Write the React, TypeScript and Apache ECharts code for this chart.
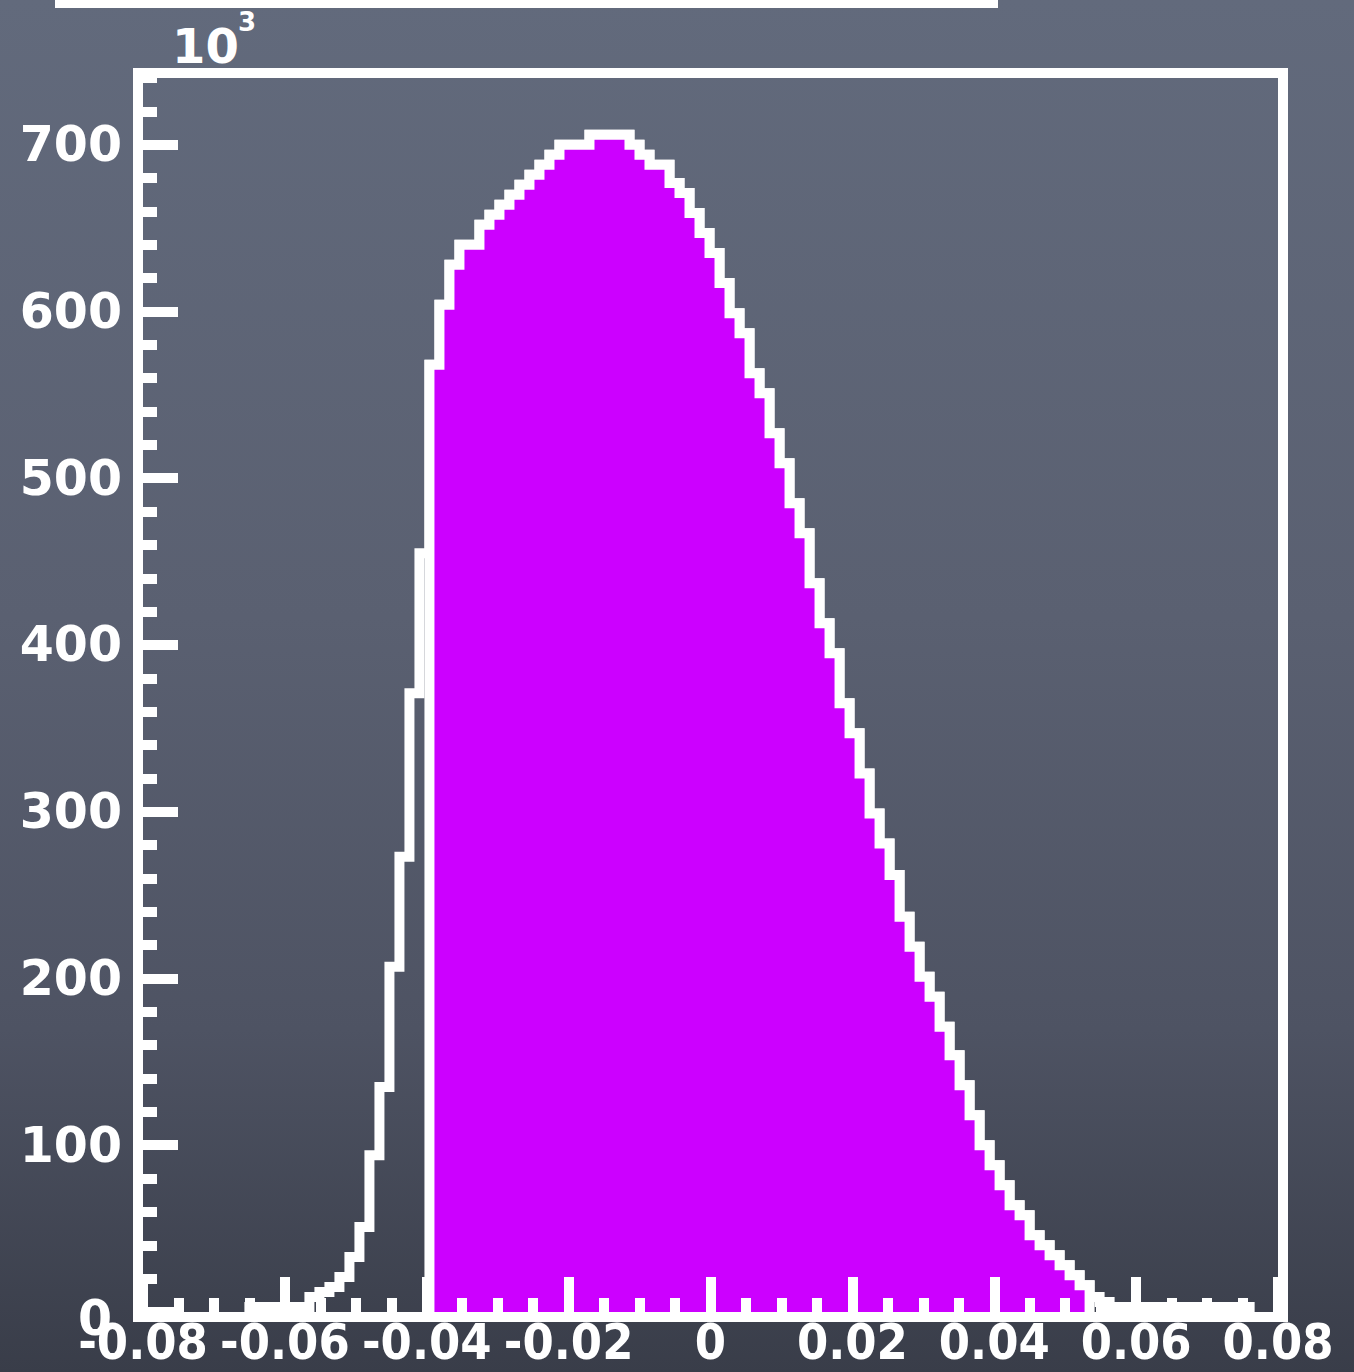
import React, { useEffect, useRef } from "react";
import * as echarts from "echarts";

// Histogram binning (100 bins)
const BIN_START = -0.065;
const BIN_WIDTH = 0.00141;
const SELECTED_OFFSET = 18; // first bin of the magenta (selected) histogram

// Full distribution, left part (bins 0..17), counts in 10^3
const leftTail = [3, 3, 3, 3, 3, 3, 9, 12, 15, 21, 33, 51, 94, 135, 207, 273, 371, 455];
// Selected (magenta) histogram, bins 18..83
const selected = [
  568, 604, 628, 640, 640, 652, 658, 664, 670, 676, 682, 688, 694, 700, 700, 700,
  706, 706, 706, 706, 700, 694, 688, 688, 677, 671, 659, 647, 635, 617, 599, 587,
  563, 551, 527, 509, 485, 467, 437, 413, 395, 365, 347, 323, 299, 281, 262, 237,
  219, 201, 189, 171, 154, 136, 118, 100, 88, 76, 64, 58, 46, 40, 34, 28, 22, 16,
];
// Full distribution, right tail (bins 84..99)
const rightTail = [9, 6, 3, 3, 3, 3, 3, 3, 3, 3, 3, 3, 3, 3, 3, 3];

const yTicks = [0, 100, 200, 300, 400, 500, 600, 700];
const X_MIN = -0.08;
const X_MAX = 0.08;
const Y_MAX = 740;

function stepPoints(start: number, width: number, counts: number[]) {
  const pts: number[][] = [[start, 0]];
  counts.forEach((c, i) => {
    const x0 = start + i * width;
    pts.push([x0, c], [x0 + width, c]);
  });
  pts.push([start + counts.length * width, 0]);
  return pts;
}

const WHITE = "#ffffff";
const FONT = "DejaVu Sans";

export default function App() {
  const ref = useRef<HTMLDivElement>(null);
  useEffect(() => {
    if (!ref.current) return;
    const chart = echarts.init(ref.current, undefined, { renderer: "svg" });
    const allCounts = leftTail.concat(selected, rightTail);
    const allPts = stepPoints(BIN_START, BIN_WIDTH, allCounts);
    const selPts = stepPoints(BIN_START + SELECTED_OFFSET * BIN_WIDTH, BIN_WIDTH, selected);

    chart.setOption({
      animation: false,
      backgroundColor: new echarts.graphic.LinearGradient(0, 0, 0, 1, [
        { offset: 0, color: "#626a7c" },
        { offset: 0.45, color: "#5a6071" },
        { offset: 0.75, color: "#4e5363" },
        { offset: 1, color: "#393d49" },
      ]),
      grid: { left: 143, right: 76, top: 78, bottom: 60, outerBoundsMode: "none" },
      xAxis: {
        type: "value",
        min: X_MIN,
        max: X_MAX,
        interval: 0.02,
        z: 5,
        axisLine: { show: false, onZero: false },
        splitLine: { show: false },
        axisTick: { show: true, inside: true, length: 35, lineStyle: { color: WHITE, width: 10 } },
        minorTick: { show: true, splitNumber: 4, length: 14, lineStyle: { color: WHITE, width: 10 } },
        axisLabel: {
          color: WHITE,
          fontFamily: "DejaVu Sans Condensed",
          fontWeight: "bold",
          fontSize: 50,
          lineHeight: 40,
          margin: 10,
          hideOverlap: false,
          formatter: (v: number) => (Math.abs(v) < 1e-9 ? "0" : v.toFixed(2)),
        },
      },
      yAxis: [
        {
          type: "value",
          position: "left",
          min: 0,
          max: Y_MAX,
          z: 5,
          axisLine: { show: false, onZero: false },
          splitLine: { show: false },
          axisTick: {
            show: true,
            inside: true,
            length: 35,
            customValues: yTicks,
            lineStyle: { color: WHITE, width: 10 },
          },
          axisLabel: {
            customValues: yTicks,
            color: WHITE,
            fontFamily: FONT,
            fontWeight: "bold",
            fontSize: 49,
            margin: 21,
            formatter: (v: number) => (v === 0 ? "{z|0}" : String(v)),
            rich: {
              z: {
                color: WHITE,
                fontFamily: FONT,
                fontWeight: "bold",
                fontSize: 49,
                padding: [12, 10, 0, 0],
              },
            },
          },
        },
        {
          type: "value",
          position: "left",
          min: 0,
          max: Y_MAX,
          interval: 20,
          z: 5,
          axisLine: { show: false, onZero: false },
          splitLine: { show: false },
          axisLabel: { show: false },
          axisTick: { show: true, inside: true, length: 14, lineStyle: { color: WHITE, width: 10 } },
        },
      ],
      series: [
        {
          type: "line",
          name: "all",
          data: allPts,
          yAxisIndex: 0,
          symbol: "none",
          z: 2,
          lineStyle: { color: WHITE, width: 10, join: "miter", cap: "butt" },
        },
        {
          type: "line",
          name: "selected",
          data: selPts,
          yAxisIndex: 0,
          symbol: "none",
          z: 3,
          areaStyle: { color: "#cc00ff", opacity: 1 },
          lineStyle: { color: WHITE, width: 10, join: "miter", cap: "butt" },
        },
      ],
      graphic: [
        {
          type: "rect",
          z: 100,
          shape: { x: 138, y: 73, width: 1145, height: 1244 },
          style: { fill: "none", stroke: WHITE, lineWidth: 10 },
        },
        {
          type: "rect",
          z: 100,
          shape: { x: 55, y: -5, width: 943, height: 13 },
          style: { fill: WHITE },
        },
        {
          type: "text",
          z: 100,
          x: 172,
          y: 46,
          style: {
            text: "10",
            fill: WHITE,
            font: `bold 48px "${FONT}"`,
            verticalAlign: "middle",
            align: "left",
          },
        },
        {
          type: "text",
          z: 100,
          x: 238,
          y: 22,
          style: {
            text: "3",
            fill: WHITE,
            font: `bold 26px "${FONT}"`,
            verticalAlign: "middle",
            align: "left",
          },
        },
      ],
    });
    return () => chart.dispose();
  }, []);
  return (
    <div
      ref={ref}
      style={{ position: "fixed", left: 0, top: 0, width: 1354, height: 1372 }}
    />
  );
}
